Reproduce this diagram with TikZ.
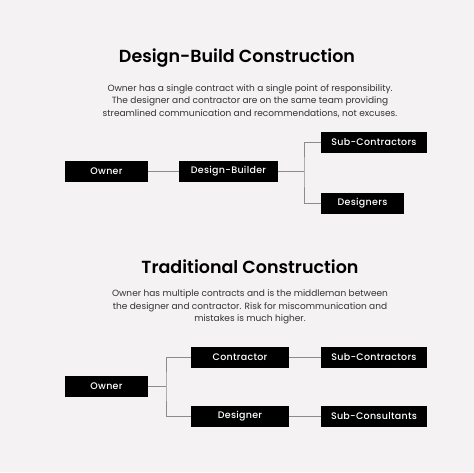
\documentclass[tikz,border=0pt]{standalone}
\usepackage{fontspec}
\setmainfont{Poppins}
\newfontfamily\headfont{Poppins SemiBold}
\newfontfamily\boxfont{Poppins Medium}[LetterSpace=3]
\usepackage{tikz}
\usetikzlibrary{positioning}
\definecolor{paper}{HTML}{F4F2F3}
\definecolor{wire}{HTML}{8C8C8C}

\begin{document}
\begin{tikzpicture}[x=1pt,y=-1pt,
  box/.style={fill=black,text=white,minimum height=21pt,inner sep=0pt,
    font=\boxfont\fontsize{9.5}{11}\selectfont},
  heading/.style={font=\headfont\fontsize{17.5}{22}\selectfont},
  blurb/.style={align=center,text=black!80,font=\fontsize{9}{12.4}\selectfont},
  wire/.style={draw=wire,line width=0.9pt}]
% Background
\fill[paper] (0,0) rectangle (474,472);
\useasboundingbox (0,0) rectangle (474,472);
% Design-Build
\node[heading] (dbtitle) at (237,58) {Design-Build Construction};
\node[blurb] (dbtext) at (250,101) {Owner has a single contract with a single point of responsibility.\\
The designer and contractor are on the same team providing\\
streamlined communication and recommendations, not excuses.};
\node[box,minimum width=83pt] (owner) at (106.5,171.5) {Owner};
\node[box,minimum width=99pt] (builder) at (228.5,171.5) {Design-Builder};
\node[box,minimum width=106pt] (subs) at (374,142.5) {Sub-Contractors};
\node[box,minimum width=83pt] (designers) at (362.5,203.5) {Designers};
\coordinate (split) at (304,171.5);
\draw[wire] (owner.east) -- (builder.west);
\draw[wire] (builder.east) -- (split);
\draw[wire] (subs.west) -| (split) |- (designers.west);
% Traditional
\node[heading] (trtitle) at (250,267) {Traditional Construction};
\node[blurb] (trtext) at (250,307) {Owner has multiple contracts and is the middleman between\\
the designer and contractor. Risk for miscommunication and\\
mistakes is much higher.};
\node[box,minimum width=83pt] (owner2) at (106.5,386.5) {Owner};
\node[box,minimum width=98pt] (contractor) at (240,357.5) {Contractor};
\node[box,minimum width=98pt] (designer) at (240,416.5) {Designer};
\node[box,minimum width=106pt] (subs2) at (374,357.5) {Sub-Contractors};
\node[box,minimum width=106pt] (consultants) at (374,416.5) {Sub-Consultants};
\coordinate (split2) at (166,386.5);
\draw[wire] (owner2.east) -- (split2);
\draw[wire] (contractor.west) -| (split2) |- (designer.west);
\draw[wire] (contractor.east) -- (subs2.west);
\draw[wire] (designer.east) -- (consultants.west);
\end{tikzpicture}
\end{document}
